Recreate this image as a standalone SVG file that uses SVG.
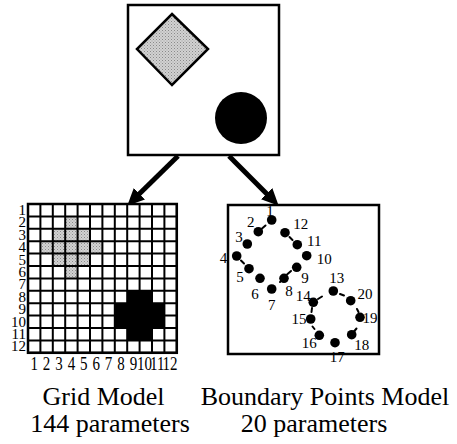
<svg xmlns="http://www.w3.org/2000/svg" width="457" height="444" viewBox="0 0 457 444">
<style>
.box{fill:#fff;stroke:#000;stroke-width:2.5}
.lbl{font-family:"Liberation Serif","Times New Roman",serif;font-size:15px;fill:#000}
.cap{font-family:"Liberation Serif","Times New Roman",serif;font-size:26px;fill:#000;text-anchor:middle}
.pt{fill:#000}
.tick{stroke:#000;stroke-width:2;stroke-linecap:round}
.arrow{stroke:#000;stroke-width:5;fill:none}
</style>
<defs>
<pattern id="stip" width="3" height="3" patternUnits="userSpaceOnUse">
<rect width="3" height="3" fill="#d2d2d2"/>
<rect x="0" y="0" width="1" height="1" fill="#8a8a8a"/>
<rect x="1.5" y="1.5" width="1" height="1" fill="#a0a0a0"/>
</pattern>
<marker id="ah" markerUnits="userSpaceOnUse" markerWidth="18" markerHeight="16" refX="6" refY="8" orient="auto">
<path d="M0,0 L17,8 L0,16 z" fill="#000"/>
</marker>
</defs>

<g id="scene">
<rect class="box" x="128" y="5" width="151" height="150"/>
<polygon points="172,14 208,49 172,85 137,49" fill="url(#stip)" stroke="#000" stroke-width="2.5"/>
<circle cx="241" cy="118" r="26" fill="#000"/>
</g>

<g id="connectors">
<line class="arrow" x1="178" y1="156" x2="135.1" y2="198" marker-end="url(#ah)"/>
<line class="arrow" x1="229" y1="156" x2="270.9" y2="197.9" marker-end="url(#ah)"/>
</g>

<g id="grid-model">
<rect x="28" y="204" width="148.8" height="148.8" fill="#fff"/>
<polygon fill="url(#stip)" points="65.2,216.4 77.6,216.4 77.6,228.8 90,228.8 90,241.2 102.4,241.2 102.4,253.6 90,253.6 90,266 77.6,266 77.6,278.4 65.2,278.4 65.2,266 52.8,266 52.8,253.6 40.4,253.6 40.4,241.2 52.8,241.2 52.8,228.8 65.2,228.8"/>
<polygon fill="#000" points="127.2,290.8 152,290.8 152,303.2 164.4,303.2 164.4,328 152,328 152,340.4 127.2,340.4 127.2,328 114.8,328 114.8,303.2 127.2,303.2"/>
<path fill="none" stroke="#000" stroke-width="2" d="M28,204V352.8M40.4,204V352.8M52.8,204V352.8M65.2,204V352.8M77.6,204V352.8M90,204V352.8M102.4,204V352.8M114.8,204V352.8M127.2,204V352.8M139.6,204V352.8M152,204V352.8M164.4,204V352.8M176.8,204V352.8M28,204H176.8M28,216.4H176.8M28,228.8H176.8M28,241.2H176.8M28,253.6H176.8M28,266H176.8M28,278.4H176.8M28,290.8H176.8M28,303.2H176.8M28,315.6H176.8M28,328H176.8M28,340.4H176.8M28,352.8H176.8"/>
<rect x="28" y="204" width="148.8" height="148.8" fill="none" stroke="#000" stroke-width="2.5"/>
<g class="lbl" text-anchor="end">
<text x="26" y="215">1</text>
<text x="26" y="227.4">2</text>
<text x="26" y="239.8">3</text>
<text x="26" y="252.2">4</text>
<text x="26" y="264.6">5</text>
<text x="26" y="277">6</text>
<text x="26" y="289.4">7</text>
<text x="26" y="301.8">8</text>
<text x="26" y="314.2">9</text>
<text x="26" y="326.6">10</text>
<text x="26" y="339">11</text>
<text x="26" y="351.4">12</text>
</g>
<g class="lbl" text-anchor="middle" transform="translate(0,370) scale(1,1.25)">
<text x="34.2" y="0">1</text>
<text x="46.6" y="0">2</text>
<text x="59" y="0">3</text>
<text x="71.4" y="0">4</text>
<text x="83.8" y="0">5</text>
<text x="96.2" y="0">6</text>
<text x="108.6" y="0">7</text>
<text x="121" y="0">8</text>
<text x="133.4" y="0">9</text>
<text x="144.5" y="0">10</text>
<text x="157.2" y="0">11</text>
<text x="170" y="0">12</text>
</g>
</g>

<g id="boundary-model">
<rect class="box" x="228" y="205" width="151" height="149"/>
<g class="pt">
<circle cx="271.7" cy="220" r="4.8"/>
<circle cx="258.3" cy="231.7" r="4.8"/>
<circle cx="247.3" cy="244" r="4.8"/>
<circle cx="236.7" cy="256" r="4.8"/>
<circle cx="249" cy="268.7" r="4.8"/>
<circle cx="260" cy="278.3" r="4.8"/>
<circle cx="271.7" cy="289" r="4.8"/>
<circle cx="284" cy="278.3" r="4.8"/>
<circle cx="296.7" cy="267.3" r="4.8"/>
<circle cx="306.7" cy="255.7" r="4.8"/>
<circle cx="297.3" cy="244.7" r="4.8"/>
<circle cx="285" cy="232.7" r="4.8"/>
<circle cx="333.3" cy="291" r="4.8"/>
<circle cx="313.3" cy="302.3" r="4.8"/>
<circle cx="310.7" cy="319" r="4.8"/>
<circle cx="319.3" cy="335.3" r="4.8"/>
<circle cx="335" cy="342.7" r="4.8"/>
<circle cx="351.7" cy="334.7" r="4.8"/>
<circle cx="360" cy="317.3" r="4.8"/>
<circle cx="350.7" cy="300.7" r="4.8"/>
</g>
<g class="tick">
<line x1="262" y1="228.5" x2="265.5" y2="225.5"/>
<line x1="289.5" y1="237" x2="292.5" y2="240"/>
<line x1="241" y1="260.5" x2="244" y2="263.5"/>
<line x1="287" y1="274.5" x2="291" y2="271"/>
<line x1="280" y1="282" x2="283" y2="279"/>
<line x1="318" y1="299" x2="322" y2="296.5"/>
<line x1="340" y1="294" x2="344" y2="295.5"/>
<line x1="312" y1="308" x2="311.5" y2="312"/>
<line x1="314.5" y1="329" x2="312.5" y2="326.5"/>
<line x1="354" y1="331.5" x2="356.5" y2="328.5"/>
<line x1="358.5" y1="312" x2="357" y2="309"/>
</g>
<g class="lbl" text-anchor="middle">
<text x="270" y="215.5">1</text>
<text x="250.7" y="227">2</text>
<text x="239" y="242">3</text>
<text x="223.5" y="263">4</text>
<text x="240" y="282">5</text>
<text x="255" y="298.5">6</text>
<text x="271.7" y="309.5">7</text>
<text x="289" y="296">8</text>
<text x="305" y="282.5">9</text>
<text x="324.3" y="264">10</text>
<text x="314.3" y="246">11</text>
<text x="300.7" y="228.5">12</text>
<text x="336.7" y="282.5">13</text>
<text x="303.3" y="301">14</text>
<text x="299" y="324">15</text>
<text x="309.3" y="347.5">16</text>
<text x="337.3" y="362">17</text>
<text x="361.7" y="349.5">18</text>
<text x="370" y="322.5">19</text>
<text x="365" y="298.5">20</text>
</g>
</g>

<g id="captions">
<text class="cap" x="103.5" y="405">Grid Model</text>
<text class="cap" x="110" y="432">144 parameters</text>
<text class="cap" x="325" y="405">Boundary Points Model</text>
<text class="cap" x="314" y="432">20 parameters</text>
</g>
</svg>
